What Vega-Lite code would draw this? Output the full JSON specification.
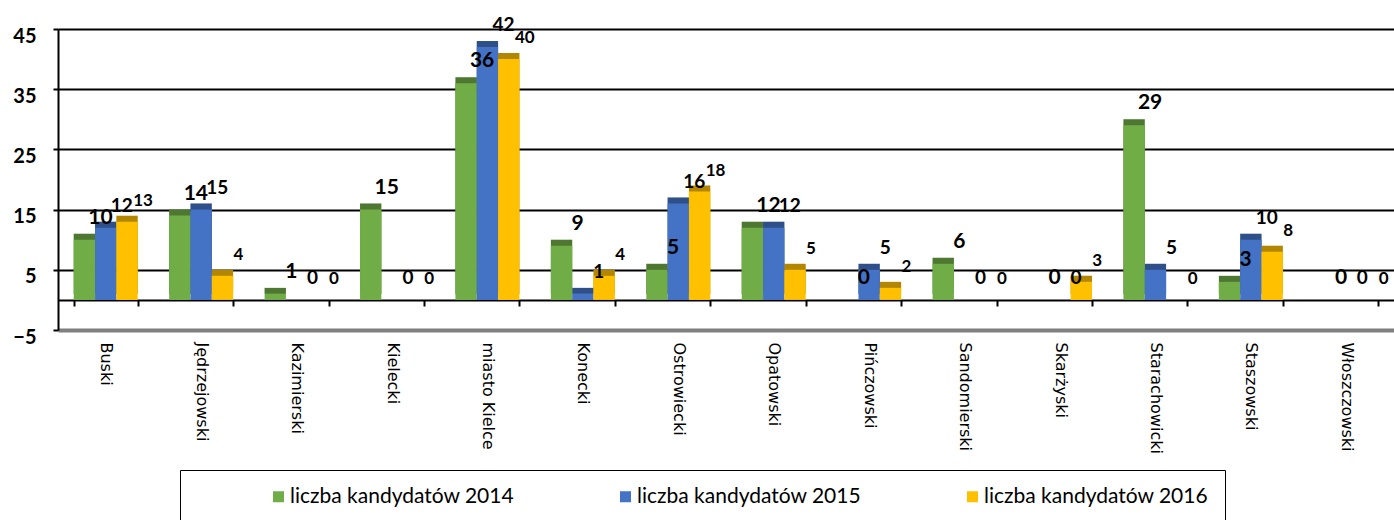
{
  "$schema": "https://vega.github.io/schema/vega-lite/v6.json",
  "width": 1336,
  "height": 301,
  "autosize": {"type": "none"},
  "padding": {"left": 58, "top": 29, "right": 0, "bottom": 190},
  "background": "white",
  "config": {
    "view": {"stroke": null},
    "font": "Lato",
    "legend": {
      "orient": "none",
      "legendX": 122,
      "legendY": 441,
      "direction": "horizontal",
      "columns": 3,
      "gridAlign": "all",
      "symbolType": "square",
      "symbolSize": 121,
      "symbolStrokeWidth": 0,
      "labelFont": "Lato",
      "labelFontSize": 21,
      "labelColor": "black",
      "labelLimit": 400,
      "labelOffset": 1,
      "strokeColor": "black",
      "padding": 16,
      "columnPadding": 28,
      "symbolOffset": 72
    }
  },
  "data": {
    "values": [
      {"powiat": "Buski", "seria": "liczba kandydatów 2014", "wartosc": 10},
      {"powiat": "Buski", "seria": "liczba kandydatów 2015", "wartosc": 12},
      {"powiat": "Buski", "seria": "liczba kandydatów 2016", "wartosc": 13},
      {"powiat": "Jędrzejowski", "seria": "liczba kandydatów 2014", "wartosc": 14},
      {"powiat": "Jędrzejowski", "seria": "liczba kandydatów 2015", "wartosc": 15},
      {"powiat": "Jędrzejowski", "seria": "liczba kandydatów 2016", "wartosc": 4},
      {"powiat": "Kazimierski", "seria": "liczba kandydatów 2014", "wartosc": 1},
      {"powiat": "Kazimierski", "seria": "liczba kandydatów 2015", "wartosc": 0},
      {"powiat": "Kazimierski", "seria": "liczba kandydatów 2016", "wartosc": 0},
      {"powiat": "Kielecki", "seria": "liczba kandydatów 2014", "wartosc": 15},
      {"powiat": "Kielecki", "seria": "liczba kandydatów 2015", "wartosc": 0},
      {"powiat": "Kielecki", "seria": "liczba kandydatów 2016", "wartosc": 0},
      {"powiat": "miasto Kielce", "seria": "liczba kandydatów 2014", "wartosc": 36},
      {"powiat": "miasto Kielce", "seria": "liczba kandydatów 2015", "wartosc": 42},
      {"powiat": "miasto Kielce", "seria": "liczba kandydatów 2016", "wartosc": 40},
      {"powiat": "Konecki", "seria": "liczba kandydatów 2014", "wartosc": 9},
      {"powiat": "Konecki", "seria": "liczba kandydatów 2015", "wartosc": 1},
      {"powiat": "Konecki", "seria": "liczba kandydatów 2016", "wartosc": 4},
      {"powiat": "Ostrowiecki", "seria": "liczba kandydatów 2014", "wartosc": 5},
      {"powiat": "Ostrowiecki", "seria": "liczba kandydatów 2015", "wartosc": 16},
      {"powiat": "Ostrowiecki", "seria": "liczba kandydatów 2016", "wartosc": 18},
      {"powiat": "Opatowski", "seria": "liczba kandydatów 2014", "wartosc": 12},
      {"powiat": "Opatowski", "seria": "liczba kandydatów 2015", "wartosc": 12},
      {"powiat": "Opatowski", "seria": "liczba kandydatów 2016", "wartosc": 5},
      {"powiat": "Pińczowski", "seria": "liczba kandydatów 2014", "wartosc": 0},
      {"powiat": "Pińczowski", "seria": "liczba kandydatów 2015", "wartosc": 5},
      {"powiat": "Pińczowski", "seria": "liczba kandydatów 2016", "wartosc": 2},
      {"powiat": "Sandomierski", "seria": "liczba kandydatów 2014", "wartosc": 6},
      {"powiat": "Sandomierski", "seria": "liczba kandydatów 2015", "wartosc": 0},
      {"powiat": "Sandomierski", "seria": "liczba kandydatów 2016", "wartosc": 0},
      {"powiat": "Skarżyski", "seria": "liczba kandydatów 2014", "wartosc": 0},
      {"powiat": "Skarżyski", "seria": "liczba kandydatów 2015", "wartosc": 0},
      {"powiat": "Skarżyski", "seria": "liczba kandydatów 2016", "wartosc": 3},
      {"powiat": "Starachowicki", "seria": "liczba kandydatów 2014", "wartosc": 29},
      {"powiat": "Starachowicki", "seria": "liczba kandydatów 2015", "wartosc": 5},
      {"powiat": "Starachowicki", "seria": "liczba kandydatów 2016", "wartosc": 0},
      {"powiat": "Staszowski", "seria": "liczba kandydatów 2014", "wartosc": 3},
      {"powiat": "Staszowski", "seria": "liczba kandydatów 2015", "wartosc": 10},
      {"powiat": "Staszowski", "seria": "liczba kandydatów 2016", "wartosc": 8},
      {"powiat": "Włoszczowski", "seria": "liczba kandydatów 2014", "wartosc": 0},
      {"powiat": "Włoszczowski", "seria": "liczba kandydatów 2015", "wartosc": 0},
      {"powiat": "Włoszczowski", "seria": "liczba kandydatów 2016", "wartosc": 0}
    ]
  },
  "encoding": {
    "x": {
      "field": "powiat",
      "type": "nominal",
      "sort": null,
      "scale": {"paddingInner": 0.33, "paddingOuter": 0.165},
      "axis": {
        "title": null,
        "orient": "bottom",
        "offset": -30,
        "labelAngle": 90,
        "labelAlign": "left",
        "labelBaseline": "middle",
        "labelFont": "DejaVu Sans",
        "labelFontSize": 16,
        "labelColor": "black",
        "labelPadding": 36,
        "labelLimit": 200,
        "tickBand": "extent",
        "tickSize": 6,
        "tickColor": "black",
        "tickWidth": 2,
        "domainColor": "black",
        "domainWidth": 2
      }
    },
    "xOffset": {
      "field": "seria",
      "type": "nominal",
      "sort": null,
      "scale": {"paddingInner": 0, "paddingOuter": 0}
    },
    "y": {
      "field": "wartosc",
      "type": "quantitative",
      "scale": {"domain": [-5, 45], "nice": false, "zero": true},
      "axis": {
        "title": null,
        "grid": true,
        "values": [-5, 5, 15, 25, 35, 45],
        "labelFont": "Lato",
        "labelFontWeight": "bold",
        "labelFontSize": 20,
        "labelColor": "black",
        "labelPadding": 17,
        "labelOffset": 7,
        "tickSize": 5,
        "tickColor": "black",
        "tickWidth": 2,
        "domainColor": "black",
        "domainWidth": 2,
        "gridColor": {"condition": {"test": "datum.value === -5", "value": "#7f7f7f"}, "value": "black"},
        "gridWidth": {"condition": {"test": "datum.value === -5", "value": 4}, "value": 2}
      }
    },
    "color": {
      "field": "seria",
      "type": "nominal",
      "sort": null,
      "scale": {"range": ["#70AD47", "#4472C4", "#FFC000"]},
      "legend": {"title": null}
    }
  },
  "layer": [
    {
      "mark": {"type": "bar", "xOffset": 6, "yOffset": -6}
    },
    {
      "mark": {"type": "bar", "xOffset": 6, "yOffset": -6, "opacity": 0.3},
      "encoding": {"color": {"value": "black"}}
    },
    {
      "mark": {"type": "bar"}
    },
    {
      "mark": {"type": "text", "baseline": "bottom", "dx": 16, "dy": -12, "fontWeight": "bold", "font": "Lato"},
      "encoding": {
        "text": {"field": "wartosc", "type": "quantitative"},
        "color": {"value": "black"},
        "size": {
          "field": "seria",
          "type": "nominal",
          "sort": null,
          "scale": {"range": [21, 17, 17]},
          "legend": null
        }
      }
    }
  ]
}
